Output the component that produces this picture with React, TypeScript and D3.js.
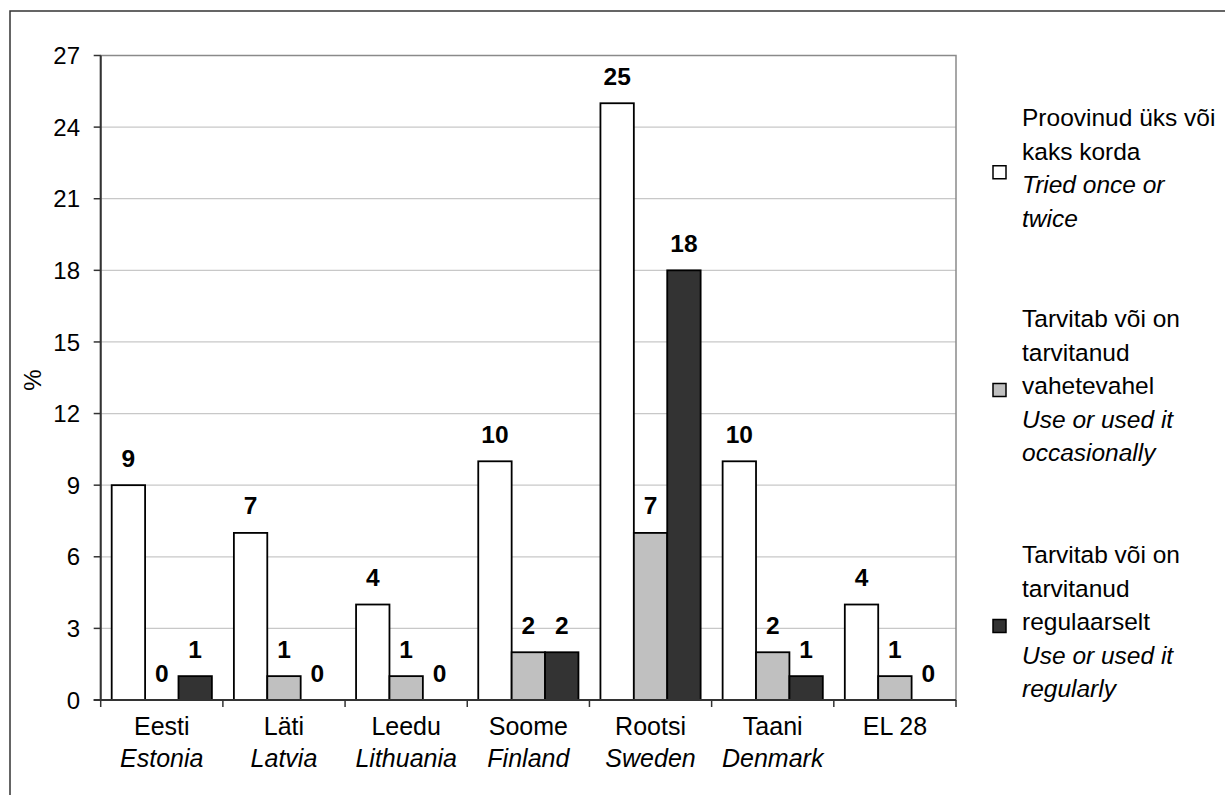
import React from "react";
import * as d3 from "d3";

const categories = ["Eesti", "Läti", "Leedu", "Soome", "Rootsi", "Taani", "EL 28"];
const categoriesEn = ["Estonia", "Latvia", "Lithuania", "Finland", "Sweden", "Denmark", ""];
const seriesKeys = ["tried", "occasional", "regular"];
const triedOnce = [9, 7, 4, 10, 25, 10, 4];
const occasionally = [0, 1, 1, 2, 7, 2, 1];
const regularly = [1, 0, 0, 2, 18, 1, 0];
const seriesValues = [triedOnce, occasionally, regularly];
const seriesColors = ["#ffffff", "#c0c0c0", "#333333"];
const yTicks = [0, 3, 6, 9, 12, 15, 18, 21, 24, 27];
const legendLines = [
  [["Proovinud üks või", false], ["kaks korda", false], ["Tried once or", true], ["twice", true]],
  [["Tarvitab või on", false], ["tarvitanud", false], ["vahetevahel", false], ["Use or used it", true], ["occasionally", true]],
  [["Tarvitab või on", false], ["tarvitanud", false], ["regulaarselt", false], ["Use or used it", true], ["regularly", true]],
];
const legendFirstBaselines = [126, 327, 563];

const FONT = "'Liberation Sans', Arial, Helvetica, sans-serif";

export default function App() {
  const W = 1225, H = 795;
  const left = 100.7, right = 956, top = 55.5, bottom = 700;
  const y = d3.scaleLinear().domain([0, 27]).range([bottom, top]);
  const x0 = d3.scaleBand<string>().domain(categories).range([left, right]).padding(0);
  const bw = x0.bandwidth();
  const x1 = d3.scaleBand<string>().domain(seriesKeys).range([11, bw - 11]).padding(0);
  const boundaries = d3.range(categories.length + 1).map((i) => left + i * bw);
  const pitch = 33.5;

  return (
    <svg width={W} height={H} style={{ position: "absolute", left: 0, top: 0, background: "#fff" }} fontFamily={FONT}>
      <rect x={0} y={0} width={W} height={H} fill="#fff" />
      {/* outer frame */}
      <rect x={10} y={11} width={1400} height={1000} fill="none" stroke="#333" strokeWidth={1.5} />
      {/* gridlines */}
      {yTicks.map((t) => (
        <line key={"g" + t} x1={left} x2={right} y1={y(t)} y2={y(t)} stroke="#c8c8c8" strokeWidth={1.2} />
      ))}
      {/* plot border */}
      <rect x={left} y={top} width={right - left} height={bottom - top} fill="none" stroke="#8a8a8a" strokeWidth={1.5} />
      {/* bars */}
      {categories.map((c, ci) => (
        <g key={c} transform={`translate(${x0(c)},0)`}>
          {seriesKeys.map((k, si) => {
            const v = seriesValues[si][ci];
            if (v <= 0) return null;
            return (
              <rect
                key={k}
                x={x1(k)}
                y={y(v)}
                width={x1.bandwidth()}
                height={y(0) - y(v)}
                fill={seriesColors[si]}
                stroke="#000"
                strokeWidth={1.8}
              />
            );
          })}
          {seriesKeys.map((k, si) => {
            const v = seriesValues[si][ci];
            return (
              <text
                key={"l" + k}
                x={(x1(k) as number) + x1.bandwidth() / 2}
                y={y(v) - 18.5}
                textAnchor="middle"
                fontWeight="bold"
                fontSize={24.5}
                fill="#000"
              >
                {v}
              </text>
            );
          })}
        </g>
      ))}
      {/* axes */}
      <line x1={left} x2={left} y1={top} y2={bottom} stroke="#333" strokeWidth={2} />
      <line x1={left - 7} x2={right} y1={bottom} y2={bottom} stroke="#333" strokeWidth={2} />
      {yTicks.map((t) => (
        <g key={"t" + t}>
          <line x1={left - 7} x2={left} y1={y(t)} y2={y(t)} stroke="#333" strokeWidth={1.5} />
          <text x={80} y={y(t)} dy="0.36em" textAnchor="end" fontSize={24} fill="#000">
            {t}
          </text>
        </g>
      ))}
      {boundaries.map((b, i) => (
        <line key={"xt" + i} x1={b} x2={b} y1={bottom} y2={bottom + 7} stroke="#333" strokeWidth={1.5} />
      ))}
      {categories.map((c, ci) => (
        <g key={"cl" + c}>
          <text x={(x0(c) as number) + bw / 2} y={735} textAnchor="middle" fontSize={25} fill="#000">
            {c}
          </text>
          <text x={(x0(c) as number) + bw / 2} y={767} textAnchor="middle" fontSize={25} fontStyle="italic" fill="#000">
            {categoriesEn[ci]}
          </text>
        </g>
      ))}
      <text transform="translate(41,380) rotate(-90)" textAnchor="middle" fontSize={24} fill="#000">
        %
      </text>
      {/* legend */}
      {legendLines.map((lines, li) => {
        const b0 = legendFirstBaselines[li];
        const mid = b0 + ((lines.length - 1) * pitch) / 2 - 4;
        return (
          <g key={"lg" + li}>
            <rect x={993} y={mid - 6.5} width={13} height={13} fill={seriesColors[li]} stroke="#000" strokeWidth={1.5} />
            {lines.map(([txt, it], j) => (
              <text key={j} x={1022} y={b0 + j * pitch} fontSize={24.5} fontStyle={it ? "italic" : "normal"} fill="#000">
                {txt as string}
              </text>
            ))}
          </g>
        );
      })}
    </svg>
  );
}
